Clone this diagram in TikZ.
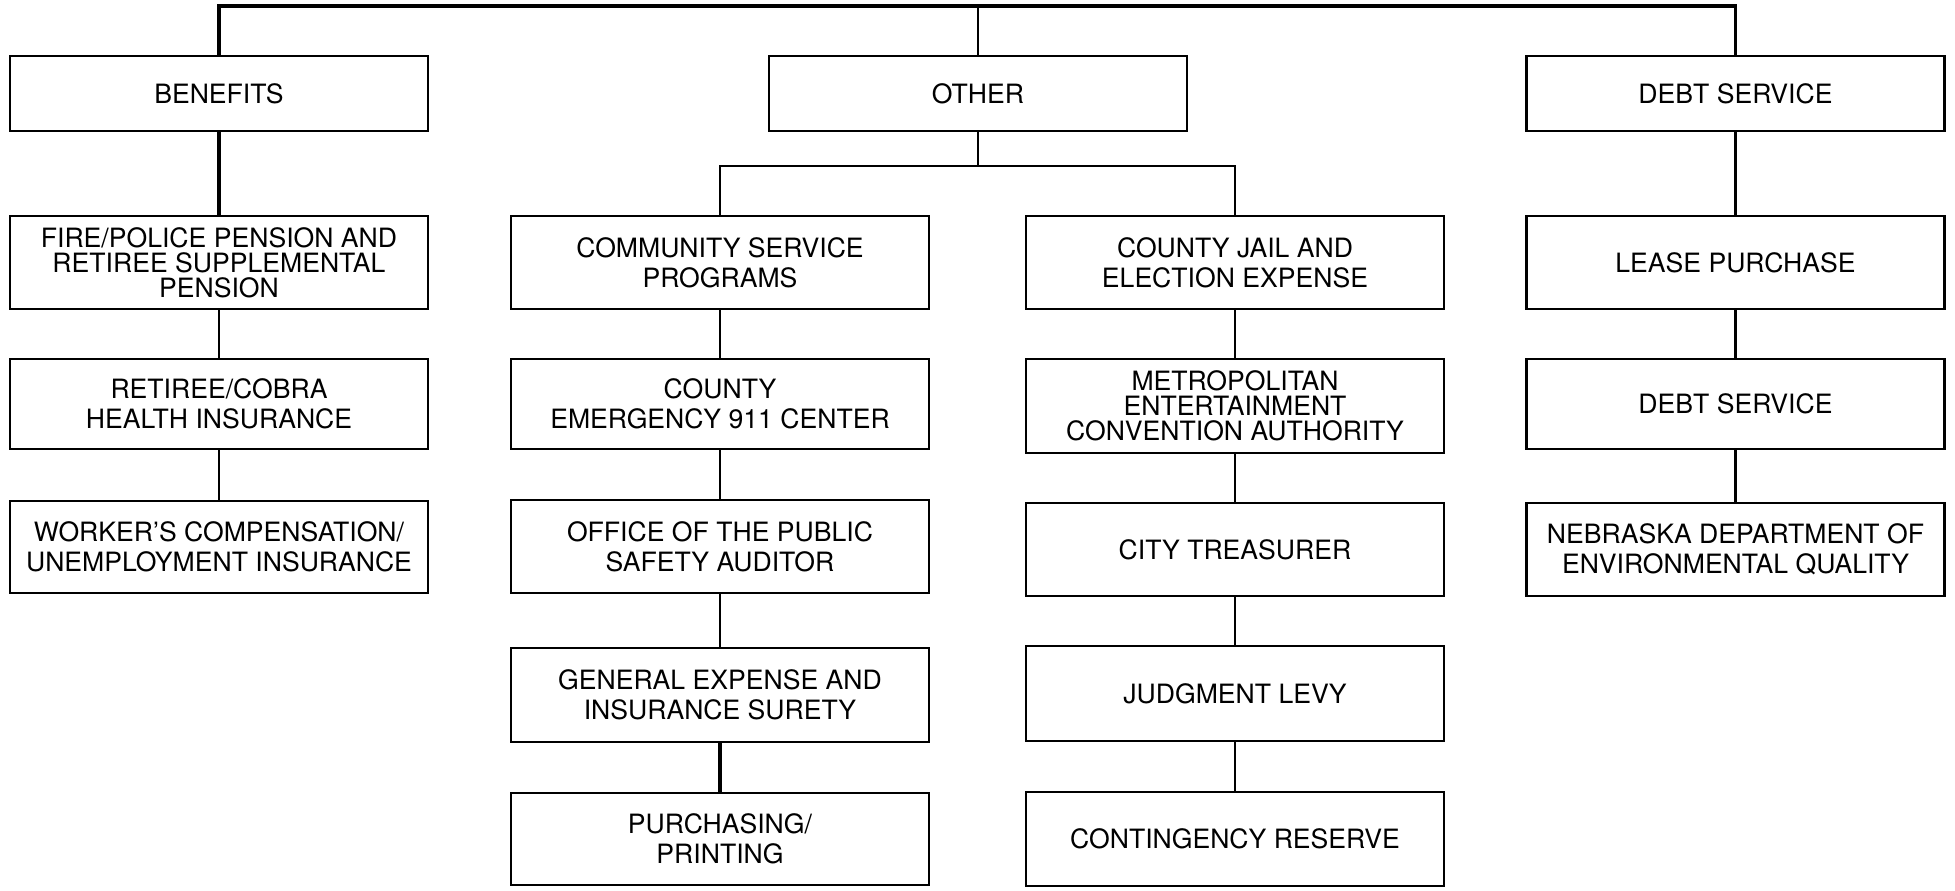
\documentclass[tikz,border=0pt]{standalone}
\usepackage{fontspec}
\setmainfont{TeX Gyre Heros}
\tikzset{
  box/.style={draw, rectangle, line width=1.4pt, minimum width=209pt, align=center, inner sep=2pt, font=\fontsize{13.3}{15}\selectfont},
  tightbox/.style={box, font=\fontsize{13.3}{12.5}\selectfont},
  link/.style={line width=1.1pt},
  thicklink/.style={line width=1.6pt}
}
\begin{document}
\begin{tikzpicture}[x=0.5pt,y=-0.5pt]
            \useasboundingbox (0,0) rectangle (1955,890);

            \node[box, minimum height=37.5pt] (benefits) at (219,93.5) {\raisebox{-2pt}{BENEFITS}};
            \node[box, minimum height=37.5pt] (other) at (978,93.5) {\raisebox{-2pt}{OTHER}};
            \node[box, minimum height=37.5pt] (debt) at (1735.5,93.5) {\raisebox{-2pt}{DEBT SERVICE}};

            \node[tightbox, minimum height=46.5pt] (firepol) at (219,262.5) {FIRE/POLICE PENSION AND\\RETIREE SUPPLEMENTAL\\PENSION};
            \node[box, minimum height=46.5pt] (community) at (720,262.5) {COMMUNITY SERVICE\\PROGRAMS};
            \node[box, minimum height=46.5pt] (jail) at (1235,262.5) {COUNTY JAIL AND\\ELECTION EXPENSE};
            \node[box, minimum height=46.5pt] (lease) at (1735.5,262.5) {LEASE PURCHASE};

            \node[box, minimum height=45pt] (cobra) at (219,404) {RETIREE/COBRA\\HEALTH INSURANCE};
            \node[box, minimum height=45pt] (e911) at (720,404) {COUNTY\\EMERGENCY 911 CENTER};
            \node[tightbox, minimum height=47pt] (metro) at (1235,406) {METROPOLITAN\\ENTERTAINMENT\\CONVENTION AUTHORITY};
            \node[box, minimum height=45pt] (debtsvc) at (1735.5,404) {DEBT SERVICE};

            \node[box, minimum height=46pt] (workers) at (219,547) {WORKER’S COMPENSATION/\\UNEMPLOYMENT INSURANCE};
            \node[box, minimum height=46.5pt] (office) at (720,546.5) {OFFICE OF THE PUBLIC\\SAFETY AUDITOR};
            \node[box, minimum height=46.5pt] (treasurer) at (1235,549.5) {CITY TREASURER};
            \node[box, minimum height=46.5pt] (nebraska) at (1735.5,549.5) {NEBRASKA DEPARTMENT OF\\ENVIRONMENTAL QUALITY};

            \node[box, minimum height=47pt] (general) at (720,695) {GENERAL EXPENSE AND\\INSURANCE SURETY};
            \node[box, minimum height=47.5pt] (judgment) at (1235,693.5) {JUDGMENT LEVY};

            \node[box, minimum height=46pt] (purchasing) at (720,839) {PURCHASING/\\PRINTING};
            \node[box, minimum height=47pt] (contingency) at (1235,839) {CONTINGENCY RESERVE};

            \coordinate (top) at (978,6);
            \coordinate (split) at (978,166);
            \draw[thicklink] (benefits.north) |- (top) -| (debt.north);
            \draw[link] (top) -- (other.north);
            \draw[link] (other.south) -- (split);
            \draw[link] (community.north) |- (split) -| (jail.north);

            \foreach \a/\b in {firepol/cobra, cobra/workers,
                community/e911, e911/office, office/general,
                jail/metro, metro/treasurer, treasurer/judgment, judgment/contingency,
                lease/debtsvc, debtsvc/nebraska}
                \draw[link] (\a) -- (\b);
            \foreach \a/\b in {benefits/firepol, general/purchasing, debt/lease}
                \draw[thicklink] (\a) -- (\b);
\end{tikzpicture}
\end{document}
